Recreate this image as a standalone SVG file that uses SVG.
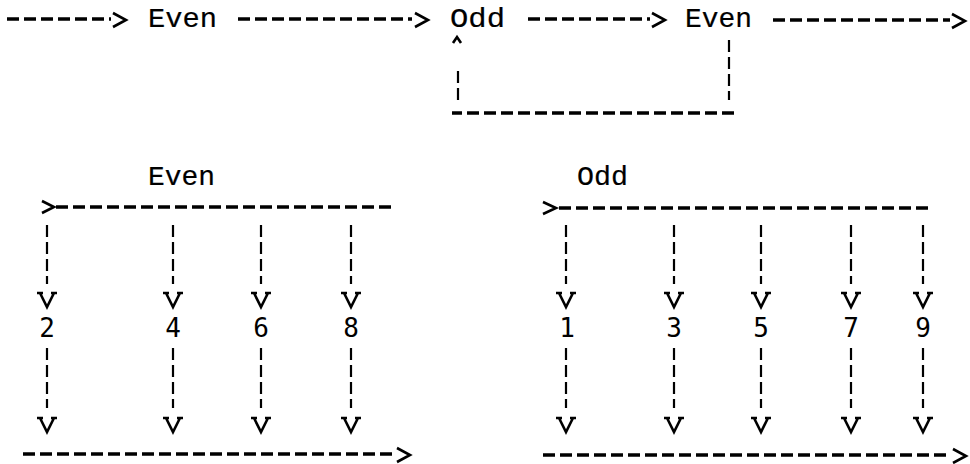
<svg xmlns="http://www.w3.org/2000/svg" width="970" height="464" viewBox="0 0 970 464">
<style>
.bg{fill:#fff}
.lbl{font-family:"Liberation Mono","DejaVu Sans Mono",monospace;font-size:27px;fill:#000;stroke:#000;stroke-width:0.2}
.num{font-family:"DejaVu Sans Mono","Liberation Mono",monospace;font-size:26px;fill:#000;text-anchor:middle}
.h{fill:none;stroke:#000;stroke-width:3.6;stroke-dasharray:12 5}
.v{fill:none;stroke:#000;stroke-width:2.2;stroke-dasharray:12 5}
.head{fill:none;stroke:#000;stroke-width:2.6;stroke-linejoin:miter}
</style>
<rect class="bg" x="0" y="0" width="970" height="464"/>

<g id="connectors">
  <!-- top chain -->
  <path class="h" d="M7,19 H111"/>
  <path class="head" d="M113,13 L126,20 L113,27"/>
  <path class="h" d="M238,19 H412"/>
  <path class="head" d="M415,13 L428,20 L415,27"/>
  <path class="h" d="M528,19 H650"/>
  <path class="head" d="M652,13 L665,20 L652,27"/>
  <path class="h" d="M773,20 H950"/>
  <path class="head" d="M952,14 L965,21 L952,28"/>
  <!-- loop back Even -> Odd -->
  <path class="v" d="M729,40 V100"/>
  <path class="h" d="M734,113 H452"/>
  <path class="v" d="M458,100 V68"/>
  <path class="head" stroke-width="2" d="M453,43 L457,37 L461,43"/>

  <!-- Even distribution -->
  <path class="head" d="M42,201 L54,207 L42,213"/>
  <path class="h" d="M56,207 H392"/>
  <path class="v" d="M47,225 V284 M173,225 V284 M261,225 V284 M351,225 V284"/>
  <path class="head" d="M37,293 H43 M40,293 L47,307 L54,293 M51,293 H57"/>
  <path class="head" d="M163,293 H169 M166,293 L173,307 L180,293 M177,293 H183"/>
  <path class="head" d="M251,293 H257 M254,293 L261,307 L268,293 M265,293 H271"/>
  <path class="head" d="M341,293 H347 M344,293 L351,307 L358,293 M355,293 H361"/>
  <path class="v" d="M47,348 V408 M173,348 V408 M261,348 V408 M351,348 V408"/>
  <path class="head" d="M37,418 H43 M40,418 L47,432 L54,418 M51,418 H57"/>
  <path class="head" d="M163,418 H169 M166,418 L173,432 L180,418 M177,418 H183"/>
  <path class="head" d="M251,418 H257 M254,418 L261,432 L268,418 M265,418 H271"/>
  <path class="head" d="M341,418 H347 M344,418 L351,432 L358,418 M355,418 H361"/>
  <path class="h" d="M23,454 H395"/>
  <path class="head" d="M397,448 L410,455 L397,462"/>

  <!-- Odd distribution -->
  <path class="head" d="M543,202 L556,208 L543,214"/>
  <path class="h" d="M559,208 H930"/>
  <path class="v" d="M566,225 V284 M674,225 V284 M761,225 V284 M851,225 V284 M923,225 V284"/>
  <path class="head" d="M556,293 H562 M559,293 L566,307 L573,293 M570,293 H576"/>
  <path class="head" d="M664,293 H670 M667,293 L674,307 L681,293 M678,293 H684"/>
  <path class="head" d="M751,293 H757 M754,293 L761,307 L768,293 M765,293 H771"/>
  <path class="head" d="M841,293 H847 M844,293 L851,307 L858,293 M855,293 H861"/>
  <path class="head" d="M913,293 H919 M916,293 L923,307 L930,293 M927,293 H933"/>
  <path class="v" d="M566,348 V408 M674,348 V408 M761,348 V408 M851,348 V408 M923,348 V408"/>
  <path class="head" d="M556,418 H562 M559,418 L566,432 L573,418 M570,418 H576"/>
  <path class="head" d="M664,418 H670 M667,418 L674,432 L681,418 M678,418 H684"/>
  <path class="head" d="M751,418 H757 M754,418 L761,432 L768,418 M765,418 H771"/>
  <path class="head" d="M841,418 H847 M844,418 L851,432 L858,418 M855,418 H861"/>
  <path class="head" d="M913,418 H919 M916,418 L923,432 L930,418 M927,418 H933"/>
  <path class="h" d="M543,455 H950"/>
  <path class="head" d="M953,449 L966,456 L953,463"/>
</g>

<g id="even-top1"><text class="lbl" x="148" y="27" textLength="69" lengthAdjust="spacingAndGlyphs">Even</text></g>
<g id="odd-top"><text class="lbl" x="450" y="27" textLength="55" lengthAdjust="spacingAndGlyphs">Odd</text></g>
<g id="even-top2"><text class="lbl" x="685" y="27" textLength="67" lengthAdjust="spacingAndGlyphs">Even</text></g>
<g id="even-head"><text class="lbl" x="148" y="185" textLength="67" lengthAdjust="spacingAndGlyphs">Even</text></g>
<g id="odd-head"><text class="lbl" x="577" y="185" textLength="51" lengthAdjust="spacingAndGlyphs">Odd</text></g>

<g id="n2"><text class="num" x="47" y="337">2</text></g>
<g id="n4"><text class="num" x="173" y="337">4</text></g>
<g id="n6"><text class="num" x="261" y="337">6</text></g>
<g id="n8"><text class="num" x="351" y="337">8</text></g>
<g id="n1"><text class="num" x="567" y="337">1</text></g>
<g id="n3"><text class="num" x="674" y="337">3</text></g>
<g id="n5"><text class="num" x="761" y="337">5</text></g>
<g id="n7"><text class="num" x="851" y="337">7</text></g>
<g id="n9"><text class="num" x="923" y="337">9</text></g>
</svg>
